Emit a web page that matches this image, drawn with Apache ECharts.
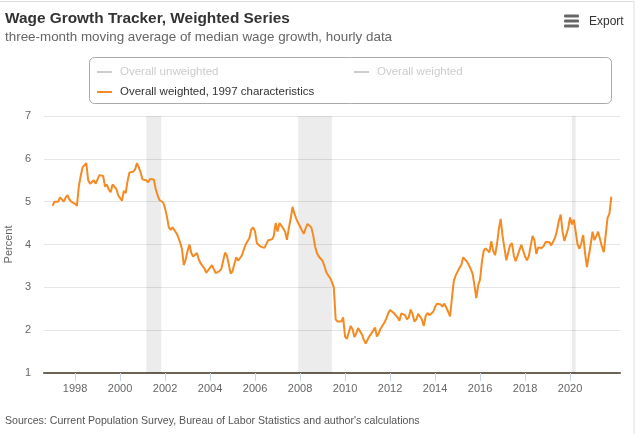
<!DOCTYPE html>
<html>
<head>
<meta charset="utf-8">
<script src="https://cdn.jsdelivr.net/npm/echarts@6/dist/echarts.min.js"></script>
<style>
  html, body { margin: 0; padding: 0; background: #fff; }
  #wage_chart { width: 640px; height: 434px; }
</style>
</head>
<body>
<div id="wage_chart"></div>
<script>
// monthly values, three-month moving average, starting Jan 1997
var startYear = 1997;
var wages1997to2004 = [
    4.9, 5.0, 5.0, 5.0, 5.1, 5.1, 5.0, 5.1, 5.15, 5.05, 5.0, 5.0,
    4.95, 4.9, 5.35, 5.6, 5.8, 5.8, 5.9, 5.5, 5.42, 5.45, 5.5, 5.42,
    5.45, 5.62, 5.62, 5.6, 5.35, 5.4, 5.28, 5.22, 5.4, 5.4, 5.3, 5.15,
    5.12, 5.02, 5.25, 5.2, 5.48, 5.68, 5.7, 5.7, 5.75, 5.9, 5.8, 5.68,
    5.52, 5.5, 5.5, 5.45, 5.53, 5.53, 5.52, 5.3, 5.15, 5.04, 5.0, 4.98,
    4.85, 4.65, 4.4, 4.34, 4.4, 4.36, 4.27, 4.18, 4.05, 3.9, 3.52, 3.65,
    3.85, 4.0, 3.8, 3.72, 3.74, 3.8, 3.65, 3.56, 3.52, 3.44, 3.34, 3.38,
    3.46, 3.52, 3.5, 3.33, 3.33, 3.38, 3.43, 3.43, 3.81, 3.74, 3.72, 3.32
];
var wages2005to2012 = [
    3.38, 3.55, 3.7, 3.62, 3.64, 3.75, 3.88, 4.0, 4.02, 4.15, 4.35, 4.4,
    4.3, 4.03, 4.0, 3.95, 3.98, 3.92, 3.95, 4.1, 4.11, 4.12, 4.2, 4.5,
    4.3, 4.5, 4.44, 4.38, 4.3, 4.11, 4.38, 4.6, 4.88, 4.72, 4.6, 4.5,
    4.42, 4.33, 4.25, 4.38, 4.48, 4.5, 4.4, 4.22, 3.96, 3.8, 3.72, 3.68,
    3.62, 3.5, 3.35, 3.28, 3.22, 3.12, 3.0, 2.25, 2.2, 2.18, 2.2, 2.3,
    1.85, 1.8, 1.83, 2.1, 2.02, 1.84, 1.93, 2.05, 2.06, 1.9, 1.78, 1.69,
    1.73, 1.86, 1.92, 1.95, 2.06, 1.85, 1.93, 2.04, 2.08, 2.18, 2.27, 2.39,
    2.47, 2.47, 2.4, 2.39, 2.3, 2.22, 2.39, 2.35, 2.35, 2.25, 2.3, 2.48
];
var wages2013to2021 = [
    2.38, 2.2, 2.25, 2.38, 2.35, 2.25, 2.1, 2.33, 2.4, 2.35, 2.33, 2.43,
    2.54, 2.62, 2.62, 2.6, 2.55, 2.62, 2.6, 2.43, 2.32, 2.75, 3.15, 3.28,
    3.3, 3.45, 3.52, 3.7, 3.71, 3.6, 3.52, 3.43, 3.32, 3.05, 2.75, 3.05,
    3.18, 3.6, 3.86, 3.91, 3.91, 3.82, 4.08, 3.85, 3.75, 4.0, 4.35, 4.6,
    4.2, 3.92, 3.63, 3.6, 3.98, 4.03, 3.75, 3.61, 3.64, 3.87, 3.99, 3.86,
    3.72, 3.63, 3.73, 3.75, 4.2, 4.1, 3.78, 3.93, 3.9, 3.92, 3.97, 4.06,
    4.1, 4.05, 3.98, 3.98, 4.16, 4.32, 4.55, 4.7, 4.3, 4.08, 4.04, 4.38,
    4.63, 4.47, 4.58, 4.3, 4.0, 3.9, 4.03, 4.22, 3.8, 3.47, 3.5, 4.0,
    4.3, 4.1, 4.1, 4.3, 4.12, 3.95, 3.82, 3.82, 4.62, 4.72, 5.12
];
var recessions = [['2001-03', '2001-11'], ['2007-12', '2009-06'], ['2020-02', '2020-04']];
var yearTicks = [1998, 2000, 2002, 2004, 2006, 2008, 2010, 2012, 2014, 2016, 2018, 2020];
var seriesNames = ['Overall unweighted', 'Overall weighted', 'Overall weighted, 1997 characteristics'];

function toYear(ym) {
    var p = ym.split('-');
    return +p[0] + (+p[1] - 1) / 12;
}

var allWages = wages1997to2004.concat(wages2005to2012, wages2013to2021);
var points = allWages.map(function (v, i) {
    return [startYear + i / 12, v];
});
var bands = recessions.map(function (r) {
    return [{ xAxis: toYear(r[0]) }, { xAxis: toYear(r[1]) }];
});

var chart = echarts.init(document.getElementById('wage_chart'));
var font = 'Liberation Sans, Arial, sans-serif';
var legendBase = {
    icon: 'rect',
    itemWidth: 15,
    itemHeight: 2,
    padding: 0,
    itemGap: 0,
    inactiveColor: '#cccccc',
    textStyle: { fontSize: 11.5, color: '#333', fontFamily: font, lineHeight: 14, padding: [0, 0, 0, 3] }
};

var option = {
    animation: false,
    textStyle: { fontFamily: font },
    title: {
        text: 'Wage Growth Tracker, Weighted Series',
        subtext: 'three-month moving average of median wage growth, hourly data',
        left: 5,
        top: 11,
        padding: 0,
        itemGap: 5,
        textStyle: { fontSize: 15.4, fontWeight: 'bold', color: '#333', fontFamily: font },
        subtextStyle: { fontSize: 13.4, color: '#666', fontFamily: font }
    },
    legend: [
        Object.assign({}, legendBase, {
            data: [seriesNames[0]], left: 97, top: 65,
            selected: { 'Overall unweighted': false }
        }),
        Object.assign({}, legendBase, {
            data: [seriesNames[1]], left: 354, top: 65,
            selected: { 'Overall weighted': false }
        }),
        Object.assign({}, legendBase, {
            data: [seriesNames[2]], left: 97, top: 85
        })
    ],
    grid: { left: 44, right: 20, top: 116, bottom: 61, outerBoundsMode: 'none' },
    xAxis: {
        type: 'value',
        min: 1996.62,
        max: 2022.22,
        axisLine: { lineStyle: { color: '#6b6354', width: 2 } },
        axisTick: { show: true, customValues: yearTicks, length: 8, lineStyle: { color: '#ccd6eb' } },
        axisLabel: {
            customValues: yearTicks, color: '#666', fontSize: 11, margin: 10,
            formatter: function (v) { return String(Math.round(v)); }
        },
        splitLine: { show: false }
    },
    yAxis: {
        type: 'value',
        min: 1,
        max: 7,
        interval: 1,
        name: 'Percent',
        nameLocation: 'middle',
        nameGap: 30,
        nameTextStyle: { color: '#666', fontSize: 11 },
        axisLine: { show: false },
        axisTick: { show: false },
        axisLabel: { color: '#666', fontSize: 11, margin: 13 },
        splitLine: { lineStyle: { color: '#e6e6e6' } }
    },
    series: [
        { name: seriesNames[0], type: 'line', data: [], color: '#999' },
        { name: seriesNames[1], type: 'line', data: [], color: '#999' },
        {
            name: seriesNames[2],
            type: 'line',
            data: points,
            color: '#f48a21',
            showSymbol: false,
            lineStyle: { width: 2, color: '#f48a21' },
            markArea: {
                silent: true,
                itemStyle: { color: 'rgba(0, 0, 0, 0.075)' },
                data: bands
            }
        }
    ],
    graphic: [
        { type: 'rect', shape: { x: -5, y: 1.5, width: 639, height: 460 }, style: { fill: 'none', stroke: '#dddddd', lineWidth: 1 }, silent: true },
        { type: 'rect', shape: { x: 89.5, y: 57.5, width: 522, height: 46, r: 5 }, style: { fill: 'none', stroke: '#aaaaaa', lineWidth: 1 }, silent: true },
        { type: 'rect', shape: { x: 564, y: 14.5, width: 15, height: 3, r: 1 }, style: { fill: '#666' } },
        { type: 'rect', shape: { x: 564, y: 19.5, width: 15, height: 3, r: 1 }, style: { fill: '#666' } },
        { type: 'rect', shape: { x: 564, y: 24.5, width: 15, height: 3, r: 1 }, style: { fill: '#666' } },
        { type: 'text', x: 589, y: 22, style: { text: 'Export', fill: '#333', font: '12px ' + font, textVerticalAlign: 'middle' } },
        { type: 'text', x: 5, y: 421, style: { text: "Sources: Current Population Survey, Bureau of Labor Statistics and author's calculations", fill: '#555', font: '10.6px ' + font, textVerticalAlign: 'middle' } }
    ]
};

chart.setOption(option);

window.addEventListener('resize', function () {
    if (chart != null && chart != undefined) {
        chart.resize();
    }
});
</script>
</body>
</html>
